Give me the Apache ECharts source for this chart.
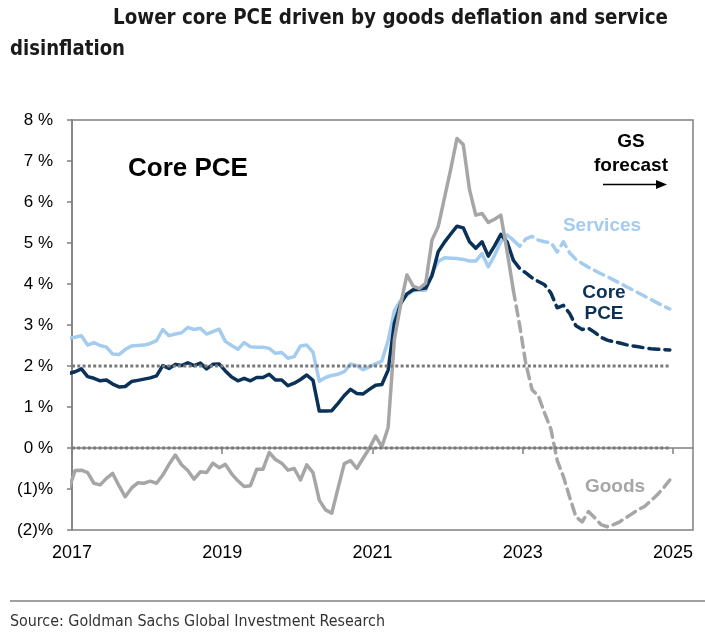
<!DOCTYPE html>
<html><head><meta charset="utf-8">
<script src="https://cdn.jsdelivr.net/npm/echarts@6/dist/echarts.min.js"></script>
<style>html,body{margin:0;padding:0;background:#fff}#c{width:705px;height:638px}</style>
</head><body><div id="c"></div>
<script>
// ---- data (monthly, year-over-year %) ----
// actual: mid-Dec 2016 .. mid-Nov 2022 ; forecast: mid-Nov 2022 .. mid-Dec 2024
const servicesActual = [2.68,2.70,2.74,2.51,2.57,2.50,2.46,2.29,2.28,2.40,2.49,2.50,2.51,2.55,2.62,2.89,2.74,2.78,2.81,2.94,2.89,2.92,2.78,2.84,2.90,2.60,2.50,2.41,2.57,2.47,2.46,2.46,2.43,2.31,2.33,2.19,2.23,2.49,2.51,2.34,1.63,1.72,1.77,1.80,1.86,2.05,2.01,1.91,1.98,2.05,2.12,2.62,3.35,3.60,3.72,3.84,3.85,3.85,4.25,4.55,4.64,4.63,4.62,4.60,4.56,4.56,4.74,4.42,4.70,5.03,5.20,5.07];
const coreActual = [1.82,1.86,1.93,1.74,1.70,1.64,1.66,1.56,1.49,1.50,1.62,1.65,1.68,1.71,1.76,2.01,1.94,2.04,2.01,2.08,2.01,2.07,1.93,2.04,2.05,1.88,1.73,1.64,1.70,1.64,1.72,1.72,1.80,1.66,1.66,1.52,1.58,1.67,1.78,1.65,0.90,0.90,0.91,1.09,1.28,1.43,1.33,1.32,1.43,1.53,1.55,1.90,3.05,3.52,3.76,3.86,3.88,3.90,4.20,4.79,5.02,5.22,5.41,5.37,5.03,4.87,5.03,4.68,4.93,5.21,5.03,4.58];
const goodsActual = [-1.00,-0.55,-0.54,-0.60,-0.86,-0.90,-0.74,-0.62,-0.92,-1.19,-0.98,-0.85,-0.86,-0.81,-0.86,-0.66,-0.40,-0.17,-0.41,-0.55,-0.76,-0.58,-0.60,-0.37,-0.48,-0.40,-0.63,-0.80,-0.94,-0.92,-0.52,-0.52,-0.11,-0.28,-0.37,-0.54,-0.50,-0.78,-0.41,-0.60,-1.27,-1.51,-1.59,-0.98,-0.38,-0.31,-0.50,-0.25,-0.01,0.29,0.03,0.50,2.65,3.50,4.22,3.95,3.89,4.02,5.07,5.40,6.10,6.80,7.55,7.40,6.30,5.68,5.72,5.50,5.58,5.68,4.80,3.85];
const servicesForecast = [5.07,4.92,5.10,5.16,5.07,5.03,5.01,4.78,5.03,4.76,4.60,4.50,4.41,4.33,4.25,4.18,4.10,4.02,3.94,3.86,3.78,3.70,3.62,3.54,3.46,3.39];
const coreForecast = [4.58,4.38,4.27,4.15,4.06,3.98,3.78,3.42,3.48,3.28,2.98,2.89,2.92,2.82,2.70,2.63,2.59,2.56,2.52,2.49,2.47,2.44,2.42,2.41,2.40,2.39];
const goodsForecast = [3.85,3.00,2.05,1.42,1.27,0.85,0.46,-0.30,-0.70,-1.20,-1.68,-1.80,-1.55,-1.70,-1.87,-1.92,-1.87,-1.80,-1.70,-1.60,-1.50,-1.42,-1.28,-1.14,-0.97,-0.78];
const refLevels = [0, 2];
const yearLabels = [2017, 2019, 2021, 2023, 2025];
const yTickValues = [8,7,6,5,4,3,2,1,0,-1,-2];

// month positions: months after 1 Jan 2017 (mid-month points)
const actualStart = -0.5;
const forecastStart = actualStart + servicesActual.length - 1;
const forecastEnd = forecastStart + servicesForecast.length - 1;
const axisEnd = 99.2;

const pairs = (start, vals) => vals.map((v, i) => [start + i, v]);
const yearToMonth = y => (y - 2017) * 12;

const C_SERV = '#A4CCEE', C_CORE = '#0B3158', C_GOODS = '#A6A6A6', C_AX = '#808080';
const dash = [10, 6];
const SANS = '"Liberation Sans", Arial, Helvetica, sans-serif';

// text fitting helper
const mctx = document.createElement('canvas').getContext('2d');
function fitScale(text, font, target) { mctx.font = font; return target / mctx.measureText(text).width; }

const titleFont = 'bold 21px "Liberation Sans Narrow", "DejaVu Sans Condensed", sans-serif';
const srcFont = '16px "Liberation Sans Narrow", "DejaVu Sans Condensed", sans-serif';
const t1 = 'Lower core PCE driven by goods deflation and service';
const t2 = 'disinflation';
const src = 'Source: Goldman Sachs Global Investment Research';

const chart = echarts.init(document.getElementById('c'), null, { renderer: 'canvas' });

const series = [];
const addLine = (name, start, vals, color, type, z) => series.push({
  name, type: 'line', data: pairs(start, vals), showSymbol: false, symbol: 'none', z,
  lineStyle: { color, width: 3.5, type, cap: type === 'solid' ? 'butt' : 'round', join: 'round' },
  animation: false
});
addLine('Services', actualStart, servicesActual, C_SERV, 'solid', 2);
addLine('Services forecast', forecastStart, servicesForecast, C_SERV, dash, 2);
addLine('Core PCE', actualStart, coreActual, C_CORE, 'solid', 3);
addLine('Core PCE forecast', forecastStart, coreForecast, C_CORE, dash, 3);
addLine('Goods', actualStart, goodsActual, C_GOODS, 'solid', 4);
addLine('Goods forecast', forecastStart, goodsForecast, C_GOODS, dash, 4);
refLevels.forEach(lv => series.push({
  type: 'line', data: [[0, lv], [forecastEnd, lv]], showSymbol: false, symbol: 'none', z: 5,
  lineStyle: { color: '#7a7a7a', width: 3, type: [3, 2.3] }, animation: false
}));

chart.setOption({
  animation: false,
  backgroundColor: '#fff',
  textStyle: { fontFamily: SANS },
  grid: { left: 72, right: 12, top: 120, bottom: 108, show: true, borderColor: C_AX, borderWidth: 1.5, backgroundColor: 'transparent' },
  xAxis: {
    type: 'value', min: 0, max: axisEnd, interval: 24,
    axisLine: { lineStyle: { color: C_AX, width: 1.5 } },
    axisTick: { show: true, length: 6, inside: false, lineStyle: { color: C_AX, width: 1.5 }, customValues: yearLabels.map(yearToMonth) },
    axisLabel: { customValues: yearLabels.map(yearToMonth), formatter: v => String(2017 + Math.round(v / 12)), color: '#000', fontSize: 18, fontFamily: SANS, margin: 14 },
    splitLine: { show: false }
  },
  yAxis: {
    type: 'value', min: -2, max: 8, interval: 1,
    axisLine: { show: true, lineStyle: { color: C_AX, width: 1.5 } },
    axisTick: { show: true, length: 5, inside: false, lineStyle: { color: C_AX, width: 1.5 }, customValues: yTickValues },
    axisLabel: { customValues: yTickValues, formatter: v => v < 0 ? '(' + (-v) + ')%' : v + ' %', color: '#000', fontSize: 17, fontFamily: SANS, margin: 19 },
    splitLine: { show: false }
  },
  series,
  graphic: [
    { type: 'text', x: 113, y: 19, scaleX: fitScale(t1, titleFont, 555), style: { text: t1, font: titleFont, fill: '#1a1a1a', textVerticalAlign: 'middle' } },
    { type: 'text', x: 10, y: 50, scaleX: fitScale(t2, titleFont, 115), style: { text: t2, font: titleFont, fill: '#1a1a1a', textVerticalAlign: 'middle' } },
    { type: 'text', x: 128, y: 169, style: { text: 'Core PCE', font: 'bold 26px ' + SANS, fill: '#000', textVerticalAlign: 'middle' } },
    { type: 'text', x: 631, y: 142, style: { text: 'GS', font: 'bold 19px ' + SANS, fill: '#000', textAlign: 'center', textVerticalAlign: 'middle' } },
    { type: 'text', x: 631, y: 166, style: { text: 'forecast', font: 'bold 19px ' + SANS, fill: '#000', textAlign: 'center', textVerticalAlign: 'middle' } },
    { type: 'line', shape: { x1: 603, y1: 184.5, x2: 658, y2: 184.5 }, style: { stroke: '#000', lineWidth: 1.5 } },
    { type: 'polygon', shape: { points: [[656, 180], [667, 184.5], [656, 189]] }, style: { fill: '#000' } },
    { type: 'text', x: 602, y: 226, style: { text: 'Services', font: 'bold 19px ' + SANS, fill: C_SERV, textAlign: 'center', textVerticalAlign: 'middle' } },
    { type: 'text', x: 604, y: 293, style: { text: 'Core', font: 'bold 19px ' + SANS, fill: C_CORE, textAlign: 'center', textVerticalAlign: 'middle' } },
    { type: 'text', x: 604, y: 314, style: { text: 'PCE', font: 'bold 19px ' + SANS, fill: C_CORE, textAlign: 'center', textVerticalAlign: 'middle' } },
    { type: 'text', x: 615, y: 487, style: { text: 'Goods', font: 'bold 19px ' + SANS, fill: C_GOODS, textAlign: 'center', textVerticalAlign: 'middle' } },
    { type: 'line', shape: { x1: 10, y1: 601, x2: 705, y2: 601 }, style: { stroke: C_AX, lineWidth: 1.5 } },
    { type: 'text', x: 10, y: 622, scaleX: fitScale(src, srcFont, 375), style: { text: src, font: srcFont, fill: '#333', textVerticalAlign: 'middle' } }
  ]
});
</script></body></html>
